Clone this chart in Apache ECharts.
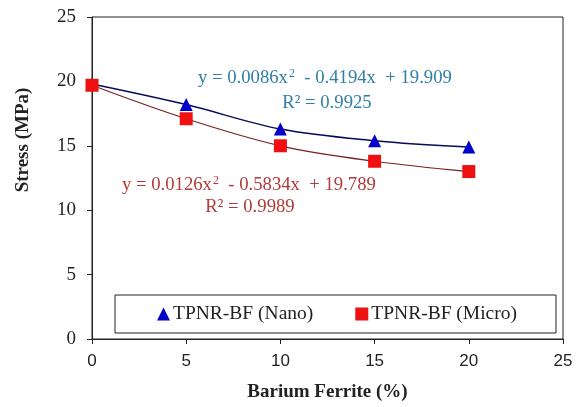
<!DOCTYPE html>
<html><head><meta charset="utf-8">
<script src="https://cdn.jsdelivr.net/npm/echarts@6/dist/echarts.min.js"></script>
<style>html,body{margin:0;padding:0;background:#fff}#c{width:580px;height:407px}</style>
</head><body><div id="c"></div>
<script>
const xValues = [0, 5, 10, 15, 20];
const nanoStress = [19.8, 18.2, 16.3, 15.4, 14.9];
const microStress = [19.7, 17.1, 15.0, 13.8, 13.0];
const nanoName = 'TPNR-BF (Nano)';
const microName = 'TPNR-BF (Micro)';
const xTitle = 'Barium Ferrite (%)';
const yTitle = 'Stress (MPa)';

const chart = echarts.init(document.getElementById('c'));
const serif = '"Liberation Serif", "Times New Roman", serif';
const sans = '"Liberation Sans", Arial, sans-serif';
const blueTxt = '#2f7fa6';
const redTxt = '#b23a3a';
chart.setOption({
  animation: false,
  grid: {left: 92, right: 17, top: 17, bottom: 65, show: true, borderColor: '#222', borderWidth: 1},
  xAxis: {
    type: 'value', min: 0, max: 25, interval: 5,
    name: xTitle, nameLocation: 'middle', nameGap: 44,
    nameTextStyle: {fontFamily: serif, fontWeight: 'bold', fontSize: 19, color: '#222'},
    axisLine: {lineStyle: {color: '#222'}},
    axisTick: {show: true, length: 5, lineStyle: {color: '#222'}},
    axisLabel: {fontFamily: sans, fontSize: 17, color: '#222', margin: 14},
    splitLine: {show: false}
  },
  yAxis: {
    type: 'value', min: 0, max: 25, interval: 5,
    axisLine: {show: true, lineStyle: {color: '#222'}},
    axisTick: {show: true, length: 5, lineStyle: {color: '#222'}},
    axisLabel: {fontFamily: serif, fontSize: 19, color: '#222', margin: 16},
    splitLine: {show: false}
  },
  legend: {
    left: 115, top: 295,
    padding: [9, 39, 9, 42], itemGap: 42,
    borderColor: '#222', borderWidth: 1,
    itemWidth: 13, itemHeight: 13, itemStyle: {borderWidth: 0},
    textStyle: {fontFamily: serif, fontSize: 19.5, color: '#222', padding: [0, 0, 0, -2]},
    data: [
      {name: nanoName, icon: 'triangle'},
      {name: microName, icon: 'rect'}
    ]
  },
  series: [
    {
      name: nanoName, type: 'line', smooth: 0.35,
      data: xValues.map((x, i) => [x, nanoStress[i]]),
      symbol: 'triangle', symbolSize: 13,
      itemStyle: {color: '#0000c8'},
      lineStyle: {color: '#0a0a5a', width: 1.5},
      z: 2
    },
    {
      name: microName, type: 'line', smooth: 0.35,
      data: xValues.map((x, i) => [x, microStress[i]]),
      symbol: 'rect', symbolSize: 13,
      itemStyle: {color: '#ee1111'},
      lineStyle: {color: '#7a2020', width: 1.2},
      z: 3
    }
  ],
  graphic: [
    {
      type: 'text', x: 23, y: 140, rotation: Math.PI / 2,
      style: {text: yTitle, fontFamily: serif, fontWeight: 'bold', fontSize: 19, fill: '#222', align: 'center', verticalAlign: 'middle'}
    },
    {
      type: 'text', x: 198, y: 78,
      style: {
        text: '{a|y = 0.0086x}{s|2}{a|  - 0.4194x  + 19.909}', verticalAlign: 'middle',
        rich: {
          a: {fontFamily: serif, fontSize: 18.7, fill: blueTxt},
          s: {fontFamily: serif, fontSize: 12, fill: blueTxt, verticalAlign: 'top', padding: [0, 0, 8, 1]}
        }
      }
    },
    {
      type: 'text', x: 327, y: 103,
      style: {text: 'R² = 0.9925', fontFamily: serif, fontSize: 18.7, fill: blueTxt, align: 'center', verticalAlign: 'middle'}
    },
    {
      type: 'text', x: 122, y: 185,
      style: {
        text: '{a|y = 0.0126x}{s|2}{a|  - 0.5834x  + 19.789}', verticalAlign: 'middle',
        rich: {
          a: {fontFamily: serif, fontSize: 18.7, fill: redTxt},
          s: {fontFamily: serif, fontSize: 12, fill: redTxt, verticalAlign: 'top', padding: [0, 0, 8, 1]}
        }
      }
    },
    {
      type: 'text', x: 250, y: 207,
      style: {text: 'R² = 0.9989', fontFamily: serif, fontSize: 18.7, fill: redTxt, align: 'center', verticalAlign: 'middle'}
    }
  ]
});
</script>
</body></html>
